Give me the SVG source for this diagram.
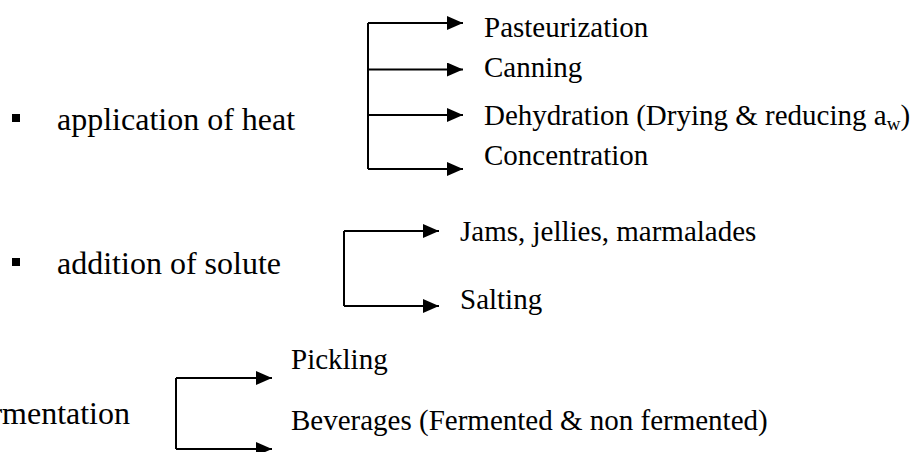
<svg xmlns="http://www.w3.org/2000/svg" width="915" height="452" viewBox="0 0 915 452">
<defs>
<style>
text{font-family:'Liberation Serif','Times New Roman','DejaVu Serif',serif;fill:#000}
.m{font-size:32px}
.s{font-size:29px}
.ln{fill:none;stroke:#000;stroke-width:2}
.ah{fill:#000}
</style>
<marker id="arr" viewBox="0 0 16 14" refX="16" refY="7" markerWidth="16" markerHeight="14" markerUnits="userSpaceOnUse" orient="auto">
<path d="M0,0 L16,7 L0,14 Z" class="ah"/>
</marker>
</defs>
<rect width="915" height="452" fill="#fff"/>
<g id="connectors">
<path class="ln" d="M368,23 V169"/>
<path class="ln" d="M368,23 H463" marker-end="url(#arr)"/>
<path class="ln" d="M368,69.5 H463" marker-end="url(#arr)"/>
<path class="ln" d="M368,115 H463" marker-end="url(#arr)"/>
<path class="ln" d="M368,169 H463" marker-end="url(#arr)"/>
<path class="ln" d="M344,231 V306"/>
<path class="ln" d="M344,231 H439" marker-end="url(#arr)"/>
<path class="ln" d="M344,306 H439" marker-end="url(#arr)"/>
<path class="ln" d="M176,378 V449"/>
<path class="ln" d="M176,378 H272" marker-end="url(#arr)"/>
<path class="ln" d="M176,449 H272" marker-end="url(#arr)"/>
</g>
<g id="heat">
<rect x="12" y="114" width="8" height="8"/>
<text class="m" x="57" y="130">application of heat</text>
</g>
<g id="solute">
<rect x="12" y="258" width="8" height="8"/>
<text class="m" x="57" y="274">addition of solute</text>
</g>
<g id="fermentation">
<text class="m" x="130" y="424" text-anchor="end">fermentation</text>
</g>
<g id="pasteurization"><text class="s" x="484" y="37">Pasteurization</text></g>
<g id="canning"><text class="s" x="484" y="77">Canning</text></g>
<g id="dehydration"><text class="s" x="484" y="125">Dehydration (Drying &amp; reducing a<tspan font-size="19" dy="5">w</tspan><tspan dy="-5">)</tspan></text></g>
<g id="concentration"><text class="s" x="484" y="165">Concentration</text></g>
<g id="jams"><text class="s" x="460" y="241">Jams, jellies, marmalades</text></g>
<g id="salting"><text class="s" x="460" y="309">Salting</text></g>
<g id="pickling"><text class="s" x="291" y="369">Pickling</text></g>
<g id="beverages"><text class="s" x="291" y="430">Beverages (Fermented &amp; non fermented)</text></g>
</svg>
